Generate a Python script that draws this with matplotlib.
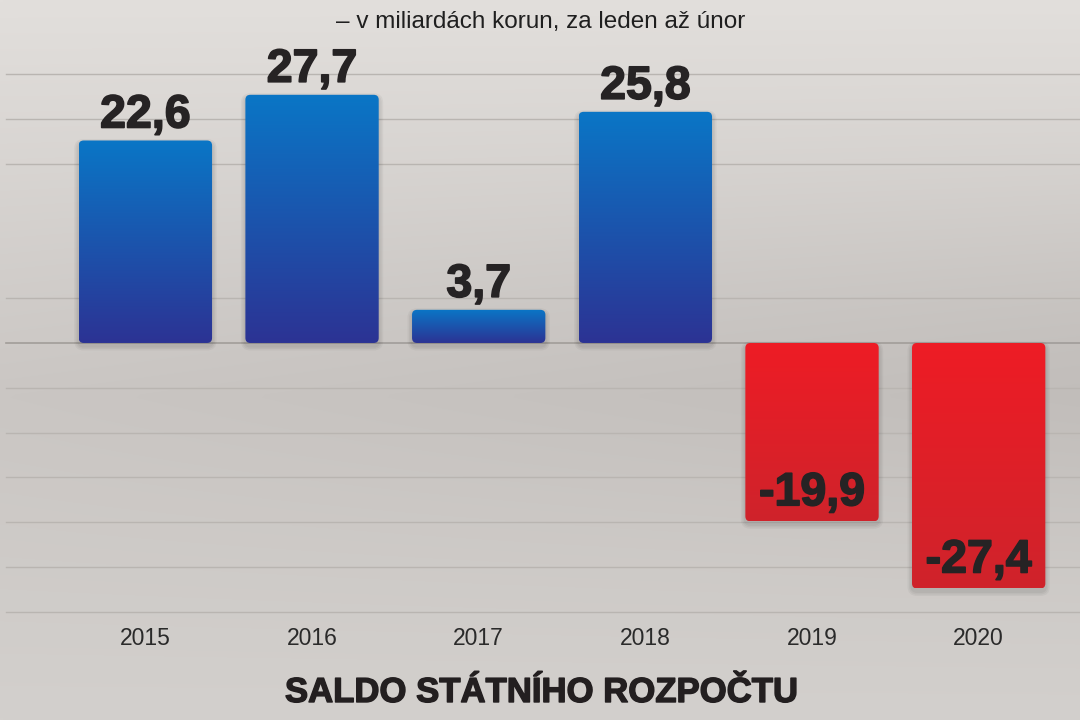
import numpy as np
import matplotlib
matplotlib.use("Agg")
import matplotlib.pyplot as plt
import matplotlib.patheffects as pe
from matplotlib.patches import FancyBboxPatch
from matplotlib.colors import to_rgb

# ---- data ----
years = ["2015", "2016", "2017", "2018", "2019", "2020"]
values = [22.6, 27.7, 3.7, 25.8, -19.9, -27.4]
value_labels = ["22,6", "27,7", "3,7", "25,8", "-19,9", "-27,4"]
grid_values = [30, 25, 20, 5, -5, -10, -15, -20, -25, -30]
subtitle = "– v miliardách korun, za leden až únor"
title = "SALDO STÁTNÍHO ROZPOČTU"

FONT = ["Liberation Sans", "DejaVu Sans"]
plt.rcParams["font.family"] = FONT

W, H = 1080, 720
fig = plt.figure(figsize=(W / 100, H / 100), dpi=100)
ax = fig.add_axes([0, 0, 1, 1])
XMIN, XMAX = -0.8724, 5.608
YMIN, YMAX = -42.08, 38.28
ax.set_xlim(XMIN, XMAX)
ax.set_ylim(YMIN, YMAX)
ax.axis("off")

# ---- background gradient ----
ny, nx = 200, 200
t = np.linspace(0, 1, ny)[:, None]           # 0 top -> 1 bottom
s = np.linspace(0, 1, nx)[None, :]           # 0 left -> 1 right
top = np.array(to_rgb("#e2dfdc"))
mid = np.array(to_rgb("#cac6c3"))
bot = np.array(to_rgb("#d3d0cd"))
prof = np.where(t < 0.55, t / 0.55, 1 - (t - 0.55) / 0.45)[..., None]
base = np.where((t < 0.55)[..., None],
                top + (mid - top) * prof,
                bot + (mid - bot) * prof)
band = np.exp(-((t - 0.5) / 0.25) ** 2)
shade = (-0.035 * s * band)[..., None]
bg = np.clip(base + shade, 0, 1)
ax.imshow(bg, extent=(XMIN, XMAX, YMIN, YMAX), aspect="auto",
          zorder=0, interpolation="bilinear", origin="upper")

# ---- grid lines ----
for g in grid_values:
    ax.axhline(g, xmin=6 / W, xmax=1, color="#b9b5b1", lw=1.0, zorder=1)
ax.axhline(0, xmin=6 / W, xmax=1, color="#a19d99", lw=1.2, zorder=1)

# ---- bars ----
x = np.arange(len(years))
bars = ax.bar(x, values, width=0.8, color="none", edgecolor="none", zorder=2)

px_per_x = W / (XMAX - XMIN)
px_per_y = H / (YMAX - YMIN)
aspect = px_per_x / px_per_y
r = 5 / px_per_x

blue_top, blue_bot = np.array(to_rgb("#0a76c6")), np.array(to_rgb("#2c3394"))
red_top, red_bot = np.array(to_rgb("#ee1c25")), np.array(to_rgb("#cf232b"))

for b, v in zip(bars, values):
    x0, w = b.get_x(), b.get_width()
    y0, h = b.get_y(), b.get_height()
    lo, hi = min(y0, y0 + h), max(y0, y0 + h)
    # soft shadow
    for k, a in enumerate([0.04, 0.04, 0.04]):
        pad = (k + 1) * 1.5
        sh = FancyBboxPatch((x0 - pad / px_per_x, lo - (pad + 3) / px_per_y),
                            w + 2 * pad / px_per_x, (hi - lo) + 2 * pad / px_per_y,
                            boxstyle=f"round,pad=0,rounding_size={r + pad / px_per_x}",
                            mutation_aspect=aspect, facecolor="black",
                            edgecolor="none", alpha=a, zorder=2)
        ax.add_patch(sh)
    patch = FancyBboxPatch((x0, lo), w, hi - lo,
                           boxstyle=f"round,pad=0,rounding_size={r}",
                           mutation_aspect=aspect, facecolor="none",
                           edgecolor="none", zorder=3)
    ax.add_patch(patch)
    c1, c2 = (blue_top, blue_bot) if v >= 0 else (red_top, red_bot)
    tt = np.linspace(0, 1, 100)[:, None, None]
    grad = c1 + (c2 - c1) * tt
    im = ax.imshow(grad, extent=(x0, x0 + w, lo, hi), aspect="auto",
                   zorder=3, interpolation="bilinear", origin="upper")
    im.set_clip_path(patch)

# ---- value labels ----
heavy = [pe.withStroke(linewidth=1.2, foreground="#262324")]
for xi, v, lab in zip(x, values, value_labels):
    off = 13 if v >= 0 else 16
    ax.annotate(lab, (xi, v), xytext=(0, off), textcoords="offset pixels",
                ha="center", va="baseline", fontsize=33.5, fontweight="bold",
                color="#262324", zorder=5, path_effects=heavy)

# ---- year labels ----
year_y = (343 - 645) / px_per_y
for xi, yr in zip(x, years):
    ax.text(xi, year_y, yr, ha="center", va="baseline", fontsize=16.5,
            color="#2a2a2a", zorder=5)

# ---- texts ----
fig.text(541 / W, 1 - 28 / H, subtitle, ha="center", va="baseline",
         fontsize=17.5, color="#1f1f1f")
fig.text(542 / W, 1 - 702 / H, title, ha="center", va="baseline",
         fontsize=25, fontweight="bold", color="#231f20",
         path_effects=[pe.withStroke(linewidth=1.0, foreground="#231f20")])

fig.savefig("out.png", dpi=100)
